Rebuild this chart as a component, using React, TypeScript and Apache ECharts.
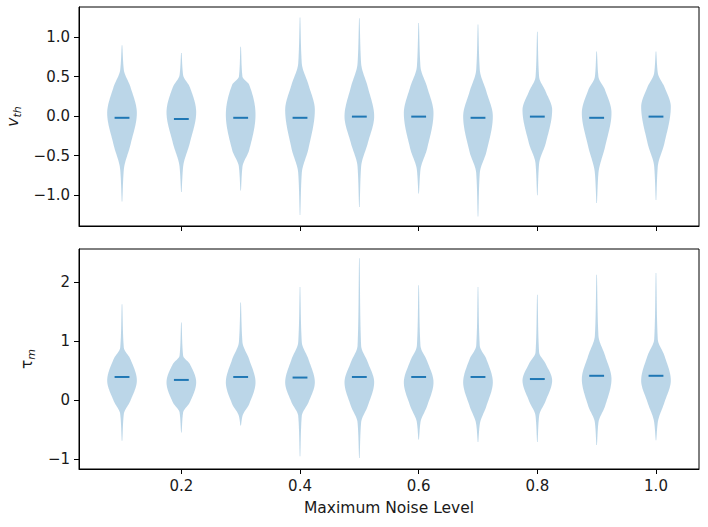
import React, { useEffect, useRef } from "react";
import * as echarts from "echarts";

// Violin positions (Maximum Noise Level)
const POSITIONS = [0.1, 0.2, 0.3, 0.4, 0.5, 0.6, 0.7, 0.8, 0.9, 1.0];
const X_TICKS = [0.2, 0.4, 0.6, 0.8, 1.0];
const VTH_TICKS = [-1.0, -0.5, 0.0, 0.5, 1.0];
const TAU_TICKS = [-1, 0, 1, 2];

// Relative violin widths at the control levels (tip, tail shoulder, half, peak, half, shoulder, tip)
const WIDTH_LEVELS = [0.02, 0.12, 0.57, 1, 0.57, 0.12, 0.02];

// v_th violins: y-values of the control levels
const VTH_TIP_LO = [-1.08, -0.96, -0.94, -1.25, -1.15, -0.98, -1.27, -1.0, -1.1, -1.06];
const VTH_TAIL_LO = [-0.68, -0.64, -0.64, -0.72, -0.64, -0.68, -0.72, -0.6, -0.72, -0.64];
const VTH_HALF_LO = [-0.36, -0.34, -0.43, -0.41, -0.34, -0.41, -0.45, -0.34, -0.385, -0.34];
const VTH_PEAK = [0.04, 0.05, 0.02, 0.08, 0.0, 0.04, 0.0, 0.08, 0.04, 0.12];
const VTH_HALF_HI = [0.37, 0.37, 0.4, 0.4, 0.37, 0.37, 0.31, 0.31, 0.33, 0.37];
const VTH_TAIL_HI = [0.59, 0.52, 0.5, 0.67, 0.67, 0.63, 0.59, 0.5, 0.5, 0.55];
const VTH_TIP_HI = [0.9, 0.8, 0.88, 1.25, 1.24, 1.18, 1.16, 1.07, 0.82, 0.82];
const VTH_MEAN = [-0.02, -0.035, -0.02, -0.02, -0.005, -0.005, -0.02, -0.005, -0.02, -0.005];

// tau_m violins
const TAU_TIP_LO = [-0.69, -0.55, -0.43, -0.95, -0.98, -0.67, -0.71, -0.71, -0.76, -0.68];
const TAU_TAIL_LO = [-0.24, -0.21, -0.27, -0.27, -0.38, -0.38, -0.41, -0.27, -0.38, -0.38];
const TAU_HALF_LO = [-0.01, -0.04, -0.07, -0.04, -0.1, -0.1, -0.1, -0.01, -0.1, -0.04];
const TAU_PEAK = [0.33, 0.3, 0.3, 0.3, 0.3, 0.3, 0.3, 0.33, 0.355, 0.33];
const TAU_HALF_HI = [0.69, 0.61, 0.69, 0.69, 0.64, 0.66, 0.69, 0.61, 0.75, 0.75];
const TAU_TAIL_HI = [0.89, 0.75, 0.98, 0.98, 0.92, 0.92, 0.92, 0.81, 1.09, 1.03];
const TAU_TIP_HI = [1.62, 1.31, 1.65, 1.91, 2.4, 1.94, 1.91, 1.78, 2.12, 2.15];
const TAU_MEAN = [0.39, 0.34, 0.39, 0.38, 0.39, 0.39, 0.39, 0.355, 0.41, 0.41];

const VIOLIN_WIDTH = 0.05;
const X_MIN = 0.0275;
const X_MAX = 1.0725;
const VTH_MIN = -1.39;
const VTH_MAX = 1.383;
const TAU_MIN = -1.167;
const TAU_MAX = 2.555;

const BLUE = "#1f77b4";
const FONT = "DejaVu Sans";
const TEXT = "#1a1a1a";

function buildData(tl: number[], sl: number[], hl: number[], pk: number[], hh: number[], sh: number[], th: number[], mean: number[]) {
  return POSITIONS.map((p, i) => [p, tl[i], sl[i], hl[i], pk[i], hh[i], sh[i], th[i], mean[i]]);
}

// Fritsch–Carlson monotone cubic interpolation
function monotone(xs: number[], ys: number[]) {
  const n = xs.length;
  const d: number[] = [];
  const m: number[] = [];
  for (let i = 0; i < n - 1; i++) d.push((ys[i + 1] - ys[i]) / (xs[i + 1] - xs[i]));
  m.push(d[0]);
  for (let i = 1; i < n - 1; i++) {
    if (d[i - 1] * d[i] <= 0) m.push(0);
    else {
      const w1 = 2 * (xs[i + 1] - xs[i]) + (xs[i] - xs[i - 1]);
      const w2 = (xs[i + 1] - xs[i]) + 2 * (xs[i] - xs[i - 1]);
      m.push((w1 + w2) / (w1 / d[i - 1] + w2 / d[i]));
    }
  }
  m.push(d[n - 2]);
  return (x: number) => {
    let i = 0;
    while (i < n - 2 && x > xs[i + 1]) i++;
    const h = xs[i + 1] - xs[i];
    const t = Math.min(1, Math.max(0, (x - xs[i]) / h));
    const t2 = t * t;
    const t3 = t2 * t;
    return (
      (2 * t3 - 3 * t2 + 1) * ys[i] +
      (t3 - 2 * t2 + t) * h * m[i] +
      (-2 * t3 + 3 * t2) * ys[i + 1] +
      (t3 - t2) * h * m[i + 1]
    );
  };
}

function renderViolin(params: any, api: any) {
  const pos = api.value(0);
  const levels: number[] = [];
  for (let k = 1; k <= 7; k++) levels.push(api.value(k));
  const mean = api.value(8);
  const f = monotone(levels, WIDTH_LEVELS);
  const cx = api.coord([pos, 0])[0];
  const halfPx = api.size([VIOLIN_WIDTH / 2, 0])[0];
  const N = 120;
  const right: number[][] = [];
  const left: number[][] = [];
  const lo = levels[0];
  const hi = levels[6];
  for (let j = 0; j <= N; j++) {
    const y = lo + ((hi - lo) * j) / N;
    const w = Math.min(1, Math.max(0, f(y))) * halfPx;
    const py = api.coord([pos, y])[1];
    right.push([cx + w, py]);
    left.unshift([cx - w, py]);
  }
  const my = api.coord([pos, mean])[1];
  return {
    type: "group",
    children: [
      {
        type: "polygon",
        shape: { points: right.concat(left) },
        style: { fill: "rgba(31,119,180,0.3)", stroke: "none" },
      },
      {
        type: "line",
        shape: { x1: cx - halfPx / 2, y1: my, x2: cx + halfPx / 2, y2: my },
        style: { stroke: BLUE, lineWidth: 2 },
      },
    ],
  };
}

const minus = (s: string) => s.replace("-", "\u2212");

export default function App() {
  const ref = useRef<HTMLDivElement>(null);
  useEffect(() => {
    if (!ref.current) return;
    const chart = echarts.init(ref.current, undefined, { renderer: "svg" });
    const axisLine = { show: true, onZero: false, lineStyle: { color: "#000", width: 1 } };
    const axisTickBase = { show: true, inside: false, length: 5, lineStyle: { color: "#000", width: 1 } };
    const labelBase = { color: TEXT, fontFamily: FONT, fontSize: 15 };
    const nameRich = {
      v: { fontFamily: FONT, fontSize: 15.5, fontStyle: "italic", color: TEXT, lineHeight: 20 },
      g: { fontFamily: FONT, fontSize: 15.5, color: TEXT, lineHeight: 20 },
      s: { fontFamily: FONT, fontSize: 11, fontStyle: "italic", color: TEXT, lineHeight: 20, verticalAlign: "bottom", padding: [6, 0, 0, 0] },
    };
    const gridBase = {
      left: 79, width: 620, show: true, borderColor: "#000", borderWidth: 1,
      backgroundColor: "transparent", containLabel: false, outerBoundsMode: "none",
    };
    chart.setOption({
      animation: false,
      backgroundColor: "#fff",
      grid: [
        { ...gridBase, top: 7, height: 219 },
        { ...gridBase, top: 249, height: 220 },
      ],
      xAxis: [
        {
          type: "value", gridIndex: 0, min: X_MIN, max: X_MAX,
          axisLine, splitLine: { show: false },
          axisTick: { ...axisTickBase, customValues: X_TICKS },
          axisLabel: { show: false },
        },
        {
          type: "value", gridIndex: 1, min: X_MIN, max: X_MAX,
          axisLine, splitLine: { show: false },
          axisTick: { ...axisTickBase, customValues: X_TICKS },
          axisLabel: { ...labelBase, margin: 9, customValues: X_TICKS, formatter: (v: number) => v.toFixed(1) },
          name: "Maximum Noise Level", nameLocation: "middle", nameGap: 31,
          nameTextStyle: { fontFamily: FONT, fontSize: 15.5, color: TEXT, verticalAlign: "top" },
        },
      ],
      yAxis: [
        {
          type: "value", gridIndex: 0, min: VTH_MIN, max: VTH_MAX,
          axisLine, splitLine: { show: false },
          axisTick: { ...axisTickBase, customValues: VTH_TICKS },
          axisLabel: { ...labelBase, margin: 9, customValues: VTH_TICKS, formatter: (v: number) => minus(v.toFixed(1)) },
          name: "{v|v}{s|th}", nameLocation: "middle", nameGap: 56, nameRotate: 90,
          nameTextStyle: { rich: nameRich },
        },
        {
          type: "value", gridIndex: 1, min: TAU_MIN, max: TAU_MAX,
          axisLine, splitLine: { show: false },
          axisTick: { ...axisTickBase, customValues: TAU_TICKS },
          axisLabel: { ...labelBase, margin: 9, customValues: TAU_TICKS, formatter: (v: number) => minus(String(Math.round(v))) },
          name: "{g|\u03c4}{s|m}", nameLocation: "middle", nameGap: 42, nameRotate: 90,
          nameTextStyle: { rich: nameRich },
        },
      ],
      series: [
        {
          type: "custom", xAxisIndex: 0, yAxisIndex: 0, clip: true,
          renderItem: renderViolin,
          dimensions: ["pos", "tl", "sl", "hl", "pk", "hh", "sh", "th", "mean"],
          encode: { x: 0, y: [1, 7] },
          data: buildData(VTH_TIP_LO, VTH_TAIL_LO, VTH_HALF_LO, VTH_PEAK, VTH_HALF_HI, VTH_TAIL_HI, VTH_TIP_HI, VTH_MEAN),
        },
        {
          type: "custom", xAxisIndex: 1, yAxisIndex: 1, clip: true,
          renderItem: renderViolin,
          dimensions: ["pos", "tl", "sl", "hl", "pk", "hh", "sh", "th", "mean"],
          encode: { x: 0, y: [1, 7] },
          data: buildData(TAU_TIP_LO, TAU_TAIL_LO, TAU_HALF_LO, TAU_PEAK, TAU_HALF_HI, TAU_TAIL_HI, TAU_TIP_HI, TAU_MEAN),
        },
      ],
    });
    return () => chart.dispose();
  }, []);
  return <div ref={ref} style={{ position: "fixed", left: 0, top: 0, width: 708, height: 527 }} />;
}
